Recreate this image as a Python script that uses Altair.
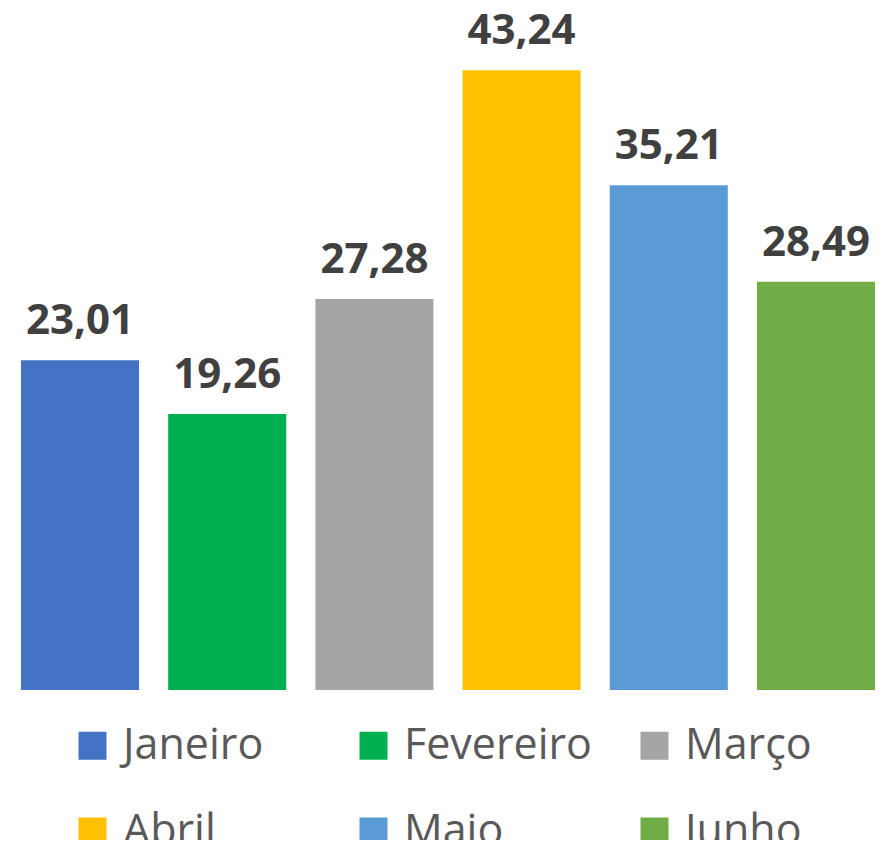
import altair as alt
import pandas as pd

months = ["Janeiro", "Fevereiro", "Março", "Abril", "Maio", "Junho"]
values = [23.01, 19.26, 27.28, 43.24, 35.21, 28.49]
colors = ["#4472C4", "#00B050", "#A5A5A5", "#FFC000", "#5B9BD5", "#70AD47"]

df = pd.DataFrame({"mes": months, "valor": values})

FONT = "Open Sans"

x = alt.X("mes:N", sort=months, axis=None,
          scale=alt.Scale(paddingInner=0.198, paddingOuter=0))
y = alt.Y("valor:Q", axis=None, scale=alt.Scale(domain=[0, 45], nice=False))

bars = alt.Chart(df).mark_bar().encode(
    x=x, y=y,
    color=alt.Color("mes:N", sort=months,
                    scale=alt.Scale(domain=months, range=colors),
                    legend=alt.Legend(
                        title=None, orient="none", legendX=50, legendY=679,
                        columns=3, direction="horizontal", gridAlign="all",
                        symbolType="square", symbolSize=784, symbolStrokeWidth=0,
                        labelFont=FONT, labelFontSize=43, labelColor="#595959",
                        labelOffset=9, labelLimit=400,
                        columnPadding=41, rowPadding=42)),
)

labels = alt.Chart(df).transform_calculate(
    rot="replace(format(datum.valor, '.2f'), '.', ',')"
).mark_text(font=FONT, fontSize=42, fontWeight="bold", color="#404040",
            baseline="alphabetic", dy=-26).encode(
    x=x, y=y, text="rot:N"
)

chart = alt.layer(bars, labels).properties(
    width=854, height=645,
    padding={"left": 13, "top": 37, "right": 3, "bottom": 150},
    autosize=alt.AutoSizeParams(type="none"),
).configure_view(stroke=None)

chart.save("out.html", embed_options={"renderer": "svg", "actions": False})
